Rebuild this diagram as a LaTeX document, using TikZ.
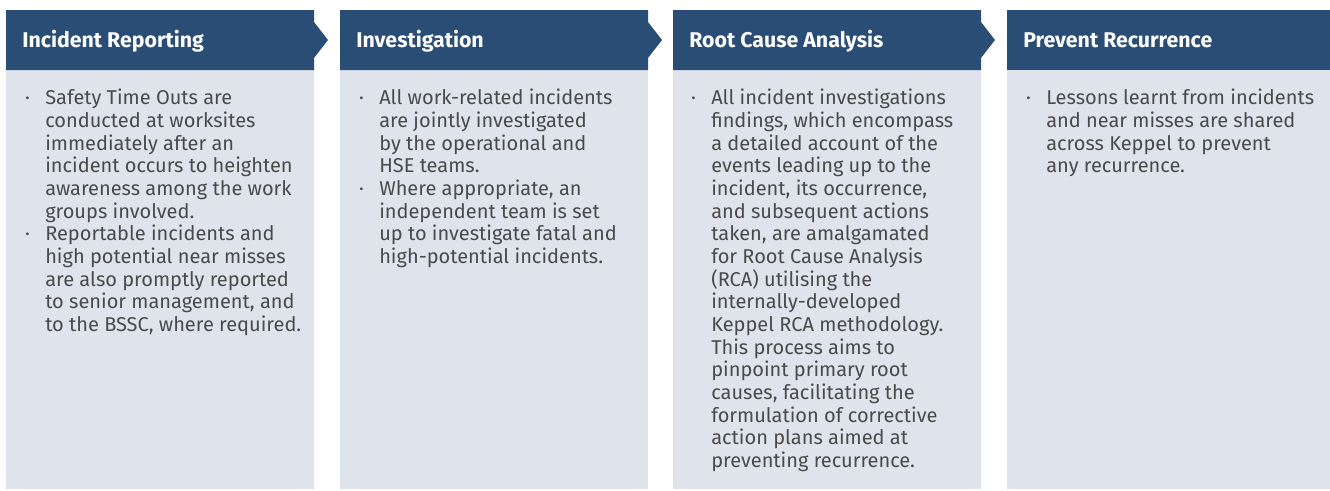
\documentclass[tikz,border=0pt]{standalone}
\usepackage{fontspec}
\setmainfont{Fira Sans}
\definecolor{hdr}{HTML}{2A4D76}
\definecolor{bdy}{HTML}{DFE3EC}
\definecolor{txt}{HTML}{4A4A4A}
\newcommand{\bul}{\llap{\textperiodcentered\hspace{11.5pt}}}
\begin{document}
\begin{tikzpicture}[x=0.75pt,y=-0.75pt,
  hdrtext/.style={anchor=base west,inner sep=0,text=white,font=\fontsize{16}{19}\selectfont\bfseries},
  bodytext/.style={anchor=north west,inner sep=0,text=txt,align=left,font=\fontsize{15}{17}\selectfont},
  hdrfill/.style={fill=hdr},
  bdyfill/.style={fill=bdy}]
\useasboundingbox (0,0) rectangle (1330,490);
% column 1
\fill[bdyfill] (6,70) rectangle (314,489);
\fill[hdrfill] (6,10) -- (314,10) -- (314,22) -- (328,40) -- (314,58) -- (314,70) -- (6,70) -- cycle;
% column 2
\fill[bdyfill] (340,70) rectangle (648,489);
\fill[hdrfill] (340,10) -- (648,10) -- (648,22) -- (662,40) -- (648,58) -- (648,70) -- (340,70) -- cycle;
% column 3
\fill[bdyfill] (673,70) rectangle (981,489);
\fill[hdrfill] (673,10) -- (981,10) -- (981,22) -- (995,40) -- (981,58) -- (981,70) -- (673,70) -- cycle;
% column 4
\fill[bdyfill] (1007,70) rectangle (1330,489);
\fill[hdrfill] (1007,10) rectangle (1330,70);

\node[hdrtext] (h1) at (22,47) {Incident Reporting};
\node[hdrtext] (h2) at (356,47) {Investigation};
\node[hdrtext] (h3) at (689,47) {Root Cause Analysis};
\node[hdrtext] (h4) at (1023,47) {Prevent Recurrence};

\node[bodytext] (t1) at (45,89) {\bul Safety Time Outs are\\
conducted at worksites\\
immediately after an\\
incident occurs to heighten\\
awareness among the work\\
groups involved.\\
\bul Reportable incidents and\\
high potential near misses\\
are also promptly reported\\
to senior management, and\\
to the BSSC, where required.};

\node[bodytext] (t2) at (379,89) {\bul All work-related incidents\\
are jointly investigated\\
by the operational and\\
HSE teams.\\
\bul Where appropriate, an\\
independent team is set\\
up to investigate fatal and\\
high-potential incidents.};

\node[bodytext] (t3) at (711,89) {\bul All incident investigations\\
findings, which encompass\\
a detailed account of the\\
events leading up to the\\
incident, its occurrence,\\
and subsequent actions\\
taken, are amalgamated\\
for Root Cause Analysis\\
(RCA) utilising the\\
internally-developed\\
Keppel RCA methodology.\\
This process aims to\\
pinpoint primary root\\
causes, facilitating the\\
formulation of corrective\\
action plans aimed at\\
preventing recurrence.};

\node[bodytext] (t4) at (1046,89) {\bul Lessons learnt from incidents\\
and near misses are shared\\
across Keppel to prevent\\
any recurrence.};
\end{tikzpicture}
\end{document}
